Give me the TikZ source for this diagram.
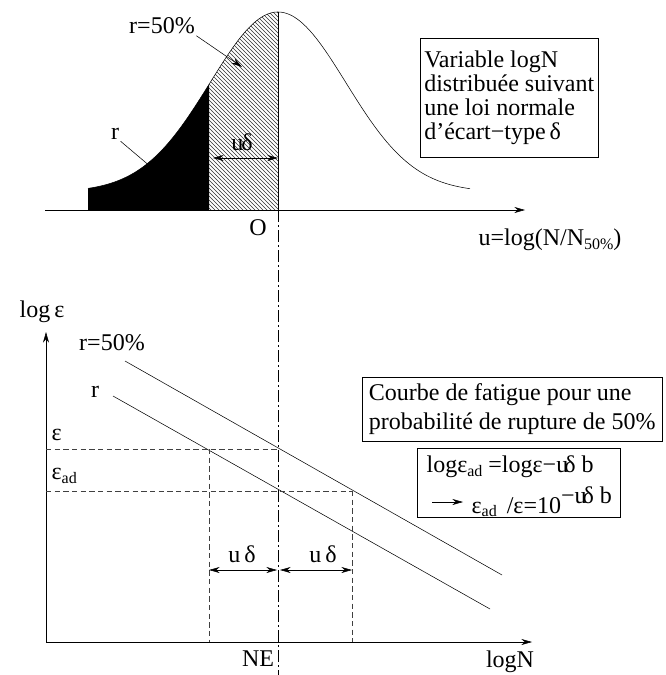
\documentclass[tikz,border=0pt]{standalone}
\usepackage{fontspec}
\setmainfont{Liberation Serif}
\usetikzlibrary{patterns,arrows.meta}
\newcommand{\sbs}[1]{\raisebox{-0.35ex}{\fontsize{12}{12}\selectfont #1}}

\begin{document}
\begin{tikzpicture}[x=0.75pt,y=-0.75pt,>={Stealth[length=8pt,width=4.5pt]},
  declare function={bell(\x)=192-180*exp(-0.5*((\x-278)/68)^2);},
  txt/.style={font=\fontsize{18}{18}\selectfont,inner sep=1pt},
  gdash/.style={dash pattern=on 4pt off 2.5pt,black!75},
  axisdot/.style={dash pattern=on 9pt off 2.5pt on 1pt off 2.5pt}]
  \useasboundingbox (0,0) rectangle (666,675);
  % loi normale
  \fill (88,210) -- plot[domain=88:209,samples=40] (\x,{bell(\x)}) -- (209,210) -- cycle;
  \fill[pattern=north west lines,pattern color=black!80] (209,210)
    -- plot[domain=209:278,samples=30] (\x,{bell(\x)}) -- (278,210) -- cycle;
  \draw plot[domain=88:470,samples=120] (\x,{bell(\x)});
  \coordinate (Top) at (278,12);
  \coordinate (O) at (278,210);
  \coordinate (U0) at (45,210);
  \coordinate (U1) at (525,210);
  \coordinate (Bot) at (278,675);
  \draw (Top) -- (O);
  \draw[->] (U0) -- (U1);
  \draw[axisdot] (O) -- (Bot);
  \node[txt] (Olab) at (258,228) {O};
  \node[txt,anchor=west] (ulab) at (477,240) {u=log(N/N\sbs{50\%})};
  \node[txt] (rhalf) at (162,26) {r=50\%};
  \coordinate (rtip) at (242,67);
  \draw[->] (rhalf.south east) -- (rtip);
  \node[txt] (rlab) at (115,134) {r};
  \coordinate (rfoot) at (151,167);
  \draw (rlab.south east) -- (rfoot);
  \coordinate (ud0) at (213,158);
  \coordinate (ud1) at (278,158);
  \draw[<->] (ud0) -- (ud1);
  \node[txt] (udlab) at (242,142) {u\kern-1.5ptδ};
  \node[txt,draw,anchor=north west,align=left,minimum width=123pt,minimum height=89pt,
    inner xsep=3pt,inner ysep=4pt,font=\fontsize{18}{18}\selectfont] (varbox) at (420,38)
    {Variable logN\\distribuée suivant\\une loi normale\\d’écart−type\,δ};
  % courbes de fatigue
  \coordinate (E0) at (46,642);
  \coordinate (Eup) at (46,332);
  \coordinate (Nr) at (532,642);
  \draw[->] (E0) -- (Eup);
  \draw[->] (E0) -- (Nr);
  \node[txt] (loge) at (42,312) {log\,ε};
  \node[txt] (logN) at (510,662) {logN};
  \node[txt] (NE) at (258,659) {NE};
  \coordinate (A1) at (125,361);
  \coordinate (A2) at (502,575);
  \coordinate (B1) at (113,396);
  \coordinate (B2) at (490,609);
  \draw (A1) -- (A2);
  \draw (B1) -- (B2);
  \node[txt] (r50) at (112,343) {r=50\%};
  \node[txt] (rr) at (95,392) {r};
  \coordinate (e0) at (46,449);
  \coordinate (e1) at (278,449);
  \coordinate (ea0) at (46,491);
  \coordinate (ea1) at (352,491);
  \coordinate (pL) at (209,449);
  \coordinate (pLb) at (209,642);
  \coordinate (pR) at (352,491);
  \coordinate (pRb) at (352,642);
  \draw[gdash] (e0) -- (e1);
  \draw[gdash] (ea0) -- (ea1);
  \draw[gdash] (pL) -- (pLb);
  \draw[gdash] (pR) -- (pRb);
  \node[txt,anchor=west] (elab) at (50,435) {ε};
  \node[txt,anchor=west] (ealab) at (50,476) {ε\sbs{ad}};
  \coordinate (d0) at (209,570);
  \coordinate (d1) at (277,570);
  \coordinate (d2) at (280,570);
  \coordinate (d3) at (352,570);
  \draw[<->] (d0) -- (d1);
  \draw[<->] (d2) -- (d3);
  \node[txt] (ud1lab) at (242,554) {u\,δ};
  \node[txt] (ud2lab) at (323,554) {u\,δ};
  \node[txt,draw,anchor=north west,align=left,minimum height=47pt,
    inner sep=5pt,font=\fontsize{18}{21.5}\selectfont] (cbox) at (362,377)
    {Courbe de fatigue pour une\\probabilité de rupture de 50\%};
  \node[draw,anchor=north west,minimum width=152pt,minimum height=52pt] (fbox) at (417,448) {};
  \node[txt,anchor=west] (f1) at (425,467) {logε\sbs{ad} =logε−u\kern-3ptδ b};
  \node[txt,anchor=west] (f2) at (470,502)
    {ε\sbs{ad} \,/ε=10\raisebox{7pt}{−u\kern-3ptδ b}};
  \coordinate (ar0) at (432,502);
  \coordinate (ar1) at (463,502);
  \draw[->] (ar0) -- (ar1);
\end{tikzpicture}
\end{document}
